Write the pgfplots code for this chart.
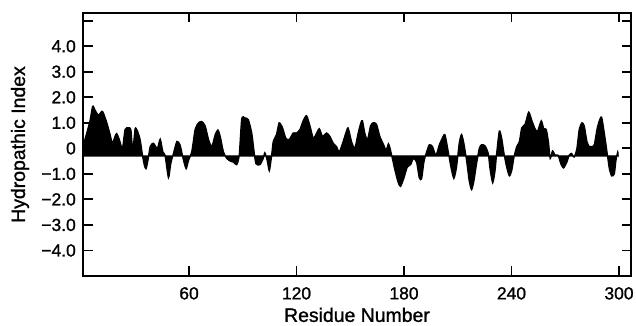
\documentclass[border=0pt]{standalone}
\usepackage{pgfplots}
\pgfplotsset{compat=1.18}
\usepackage{fontspec}
\setmainfont{Liberation Sans}[FakeBold=1.2]
\begin{document}
\begin{tikzpicture}
\begin{axis}[
  scale only axis, width=548bp, height=263bp,
  xmin=0.8, xmax=306.7, ymin=-5, ymax=5.3,
  axis line style={line width=1.8bp},
  tick style={line width=1.8bp, black},
  major tick length=9.5bp,
  tick align=inside,
  xtick={60,120,180,240,300},
  xticklabels={60,120,180,240,300},
  ytick={-5,-4,-3,-2,-1,0,1,2,3,4,5},
  yticklabels={,−4.0,−3.0,−2.0,−1.0,0,1.0,2.0,3.0,4.0,},
  every tick label/.append style={font=\fontsize{17.5}{17.5}\selectfont},
  xticklabel style={anchor=north, inner sep=0pt, yshift=-11bp},
  yticklabel style={anchor=east, inner sep=0pt, xshift=-7bp},
  xlabel={Residue Number}, ylabel={Hydropathic Index},
  label style={font=\fontsize{19.5}{20}\selectfont},
  xlabel style={at={(axis description cs:0.5,-0.148)}, anchor=center},
  ylabel style={at={(axis description cs:-0.115,0.5)}, anchor=center},
]
\addplot[draw=black, fill=black, line width=1.3bp, smooth, tension=0.4] coordinates {
(0.9,-0.3) (1.0,0.1) (2.9,0.6) (4.7,1.08) (6.2,1.65) (7.5,1.5) (9.4,1.3)
(11.3,1.45) (12.2,1.38) (14.1,1.0) (15.9,0.55) (17.2,0.2) (18.7,0.47)
(19.6,0.58) (21.1,0.34) (22.8,0.0) (24.3,0.74) (26.1,0.8) (27.5,0.74)
(28.6,-0.07) (29.9,0.77) (31.2,0.68) (32.7,0.34) (34.0,-0.27) (35.1,-0.68)
(36.0,-0.8) (37.0,-0.5) (38.3,0.07) (40.1,0.2) (42.3,0.0) (43.9,0.36)
(45.4,-0.14) (46.6,-0.27) (48.5,-1.15) (49.8,-0.6) (51.3,-0.2) (53.2,0.27)
(55.0,0.13) (56.9,-0.47) (58.4,-0.8) (59.7,-0.47) (61.5,-0.14) (63.4,0.74)
(65.3,1.0) (67.1,1.05) (69.0,0.88) (70.9,0.34) (72.7,0.07) (74.6,0.54)
(76.1,0.72) (77.4,0.47) (79.2,-0.14) (81.1,-0.4) (83.0,-0.5) (84.7,-0.54)
(86.6,-0.64) (88.0,-0.27) (89.4,1.15) (91.2,1.19) (93.1,1.12) (95.0,0.6)
(96.2,-0.07) (97.3,-0.6) (99.6,-0.64) (101.4,-0.4) (102.3,-0.17) (103.6,-0.47)
(104.8,-0.88) (106.0,-0.34) (107.0,0.27) (108.8,0.54) (110.3,1.0) (112.2,0.8)
(114.0,0.4) (115.9,0.34) (118.1,0.6) (120.0,0.6) (121.9,0.74) (123.7,1.08)
(125.6,1.28) (127.5,0.88) (129.3,0.4) (130.8,0.54) (132.7,0.77) (134.5,0.47)
(136.8,0.6) (138.6,0.47) (140.5,0.2) (142.3,0.07) (143.8,-0.14) (145.7,0.2)
(147.5,0.6) (148.8,0.8) (150.7,0.27) (152.5,0.0) (154.4,0.6) (155.9,1.0)
(156.8,1.08) (158.1,0.6) (159.6,0.34) (161.3,0.88) (162.8,1.0) (164.6,0.95)
(166.5,0.47) (168.6,0.14) (170.0,-0.07) (171.3,0.18) (172.2,0.0) (173.1,-0.27)
(175.0,-0.88) (176.8,-1.35) (178.1,-1.49) (180.0,-1.15) (181.8,-0.74) (183.7,-0.64)
(185.2,-0.4) (187.0,-0.54) (188.5,-1.15) (189.8,-1.2) (191.1,-0.54) (192.6,-0.14)
(194.1,0.14) (195.9,0.07) (197.8,-0.27) (199.7,0.14) (201.0,0.34) (202.8,0.54)
(204.7,-0.14) (206.2,-0.74) (207.8,-1.18) (209.3,-0.74) (210.8,0.2) (212.1,0.54)
(213.4,0.2) (214.9,-0.47) (216.4,-1.28) (217.7,-1.62) (219.0,-1.28) (220.5,-0.6)
(222.0,0.0) (223.3,0.14) (225.2,0.1) (227.0,-0.2) (228.0,-0.8) (229.5,-1.35)
(230.8,-0.88) (231.7,-0.2) (233.2,0.68) (234.5,0.4) (235.8,-0.2) (237.3,-0.74)
(238.8,-1.08) (240.1,-0.88) (241.4,-0.34) (242.9,0.07) (244.4,0.27) (245.7,0.8)
(247.6,0.95) (249.6,1.42) (251.4,1.08) (253.3,0.74) (254.6,0.68) (256.6,1.08)
(258.0,0.77) (259.4,0.74) (260.7,0.2) (261.6,-0.4) (262.9,-0.1) (264.4,-0.27)
(266.0,-0.27) (267.5,-0.6) (269.0,-0.77) (270.9,-0.54) (272.2,-0.27) (273.5,-0.2)
(275.0,-0.34) (276.5,0.0) (277.8,0.74) (279.3,1.0) (280.6,0.88) (282.1,0.27)
(283.4,0.07) (284.8,0.07) (286.2,0.14) (287.7,0.74) (289.0,1.08) (290.3,1.22)
(291.8,0.6) (293.3,-0.14) (294.6,-0.8) (295.9,-1.08) (297.4,-1.0) (298.3,-0.47)
(299.3,-0.14) (299.5,-0.3)
} -- cycle;
\end{axis}
\path ([xshift=-83bp,yshift=-50bp]current axis.south west) rectangle ([xshift=5bp,yshift=13bp]current axis.north east);
\end{tikzpicture}
\end{document}
